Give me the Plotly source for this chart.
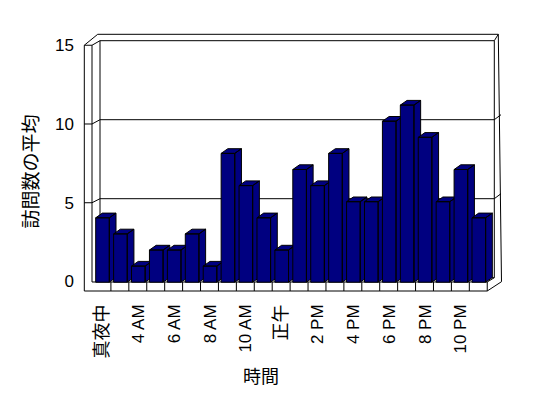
import plotly.graph_objects as go

# ---------------- data ----------------
hours = ["真夜中", "3 AM", "4 AM", "5 AM", "6 AM", "7 AM", "8 AM", "9 AM", "10 AM", "11 AM", "正午",
         "1 PM", "2 PM", "3 PM", "4 PM", "5 PM", "6 PM", "7 PM", "8 PM", "9 PM", "10 PM", "11 PM"]
visits = [4, 3, 1, 2, 2, 3, 1, 8, 6, 4, 2, 7, 6, 8, 5, 5, 10, 11, 9, 5, 7, 4]
y_ticks = [0, 5, 10, 15]
x_title = "時間"
y_title = "訪問数の平均"

# ---------------- layout geometry (page pixels) ----------------
OFF = 8                                # default body margin of the html page
W, H = 548 - 2 * OFF, 398 - 2 * OFF    # figure size that fits the window
L, R, T, B = 84, 502, 34, 291          # plot area (page pixels)
SLOT0, SLOT = 93.0, 17.92              # first category slot start / slot width
BASE_B, UNIT_B = 282.2, 16.1           # bar value scale
BASE_L, UNIT_L = 281.5, 15.75          # axis-label (front) scale
BACK_BASE, BACK_UNIT = 277.7, 15.8     # back-wall gridline scale
FACE0, FACE1 = 0.15, 0.91              # bar front face within slot
DX, DY = 6.7 / SLOT, 4.7 / UNIT_B      # bar depth offset
NAVY = "#000080"

def fx(px):
    return (px - L) / (R - L)

def fy(py):
    return (B - py) / (B - T)

def path(points):
    return "M " + " L ".join(f"{fx(a):.5f},{fy(b):.5f}" for a, b in points)

def is_cjk(s):
    return any(ord(c) > 0x2E80 for c in s)

def tick_text(s):
    return f'<span style="font-size:18px">{s}</span>' if is_cjk(s) else s

fig = go.Figure()

# ---------------- bars (3-D look) ----------------
for i, v in enumerate(visits):
    a, b = i + FACE0, i + FACE1
    side = [(b, 0), (b + DX, DY), (b + DX, v + DY), (b, v), (b, 0)]
    top = [(a, v), (b, v), (b + DX, v + DY), (a + DX, v + DY), (a, v)]
    front = [(a, 0), (b, 0), (b, v), (a, v), (a, 0)]
    xs, ys = [], []
    for poly in (side, top, front):
        xs += [p[0] for p in poly] + [None]
        ys += [p[1] for p in poly] + [None]
    fig.add_trace(go.Scatter(
        x=xs, y=ys, yaxis="y2", mode="lines", fill="toself",
        fillcolor=NAVY, line=dict(color="black", width=1),
        hoverinfo="skip", showlegend=False))

# ---------------- frame (walls & floor) ----------------
lines = []
LW_OUT, LW_IN, LW_BACK = 84.3, 92.0, 100.0
RW_IN, RW_OUT_TOP, RW_OUT_BOT = 494.3, 498.3, 501.5
TOP_OUT = 34.3
back_top = BACK_BASE - BACK_UNIT * max(y_ticks)
lw_top = BASE_L - UNIT_L * max(y_ticks)
FLOOR_TOP, FLOOR_BOT, FLOOR_R = 282.0, 291.0, SLOT0 + SLOT * len(visits)

lines.append([(LW_OUT, FLOOR_BOT), (LW_OUT, lw_top), (LW_IN, lw_top), (LW_IN, FLOOR_TOP)])
lines.append([(LW_OUT, lw_top), (97.7, TOP_OUT), (RW_OUT_TOP, TOP_OUT), (RW_OUT_BOT, 281.7)])
lines.append([(LW_IN, lw_top), (LW_BACK, back_top), (RW_IN, back_top), (RW_IN, BACK_BASE)])
lines.append([(LW_BACK, back_top), (LW_BACK, BACK_BASE)])
lines.append([(RW_IN, back_top), (RW_OUT_TOP, TOP_OUT)])
for v in y_ticks[1:-1]:
    g = BACK_BASE - BACK_UNIT * v
    f = BASE_L - UNIT_L * v
    lines.append([(LW_OUT, f), (LW_IN, f), (LW_BACK, g), (RW_IN, g), (RW_OUT_BOT - 0.5, g - 5)])
lines.append([(LW_OUT, FLOOR_BOT), (FLOOR_R, FLOOR_BOT), (RW_OUT_BOT, 281.7)])
lines.append([(LW_IN, FLOOR_TOP), (FLOOR_R, FLOOR_TOP), (RW_IN, BACK_BASE)])
lines.append([(LW_BACK, BACK_BASE), (RW_IN, BACK_BASE)])
for k in range(1, len(visits) + 1):
    xk = SLOT0 + SLOT * k
    lines.append([(xk, FLOOR_TOP), (xk, FLOOR_BOT)])

shapes = [dict(type="path", path=path(p), xref="paper", yref="paper",
               line=dict(color="black", width=1), layer="below") for p in lines]

# ---------------- axes ----------------
xr = [(L - SLOT0) / SLOT, (R - SLOT0) / SLOT]
tick_idx = list(range(0, len(hours) - 1, 2))

fig.update_layout(
    width=W, height=H,
    margin=dict(l=L - OFF, r=W - (R - OFF), t=T - OFF, b=H - (B - OFF), pad=0),
    paper_bgcolor="white", plot_bgcolor="white",
    font=dict(family="Liberation Sans, Noto Sans CJK JP, sans-serif", size=17, color="black"),
    shapes=shapes,
    xaxis=dict(range=xr, showgrid=False, zeroline=False, showline=False, ticks="",
               tickmode="array", tickvals=[i + (FACE0 + FACE1) / 2 for i in tick_idx],
               ticktext=[tick_text(hours[i]) for i in tick_idx], tickangle=-90,
               ticklabelstandoff=9, fixedrange=True),
    yaxis=dict(range=[(BASE_L - B) / UNIT_L, (BASE_L - T) / UNIT_L],
               showgrid=False, zeroline=False, showline=False, ticks="",
               tickmode="array", tickvals=y_ticks, ticklabelstandoff=9),
    yaxis2=dict(range=[(BASE_B - B) / UNIT_B, (BASE_B - T) / UNIT_B],
                overlaying="y", visible=False),
    annotations=[
        dict(text=y_title, xref="paper", yref="paper", x=fx(30.5), y=fy(172),
             textangle=-90, showarrow=False, xanchor="center", yanchor="middle",
             font=dict(size=19)),
        dict(text=x_title, xref="paper", yref="paper", x=fx(260.5), y=fy(377),
             showarrow=False, xanchor="center", yanchor="middle", font=dict(size=18)),
    ],
)
fig.add_trace(go.Scatter(x=[None], y=[None], yaxis="y", showlegend=False, hoverinfo="skip"))

fig.write_html("out.html")
